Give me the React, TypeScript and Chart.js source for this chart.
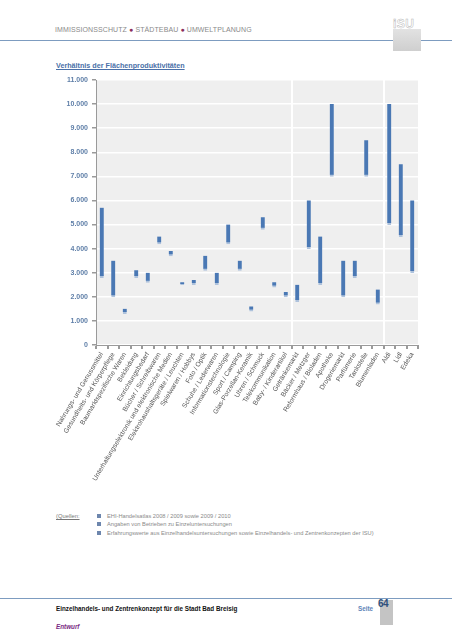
import React, { useEffect, useRef } from "react";
import { Chart, registerables } from "chart.js";

Chart.register(...registerables);

const categories: string[] = [
  "Nahrungs- und Genussmittel",
  "Gesundheits- und Körperpflege",
  "Baumarktspezifische Waren",
  "Bekleidung",
  "Einrichtungsbedarf",
  "Bücher / Schreibwaren",
  "Unterhaltungselektronik und elektronische Medien",
  "Elektrohaushaltsgeräte / Leuchten",
  "Spielwaren / Hobbys",
  "Foto / Optik",
  "Schuhe / Lederwaren",
  "Informationstechnologie",
  "Sport / Camping",
  "Glas-Porzellan-Keramik",
  "Uhren / Schmuck",
  "Telekommunikation",
  "Baby- / Kinderartikel",
  "Getränkemarkt",
  "Bäcker / Metzger",
  "Reformhaus / Bioladen",
  "Apotheke",
  "Drogeriemarkt",
  "Parfümerie",
  "Tankstelle",
  "Blumenladen",
  "Aldi",
  "Lidl",
  "Edeka",
];

const lowValues: number[] = [
  2800, 2000, 1300, 2800, 2600, 4200, 3700, 2500, 2500, 3100, 2500, 4200, 3100, 1400,
  4800, 2400, 2000, 1800, 4000, 2500, 7000, 2000, 2800, 7000, 1700, 5000, 4500, 3000,
];

const highValues: number[] = [
  5700, 3500, 1500, 3100, 3000, 4500, 3900, 2600, 2700, 3700, 3000, 5000, 3500, 1600,
  5300, 2600, 2200, 2500, 6000, 4500, 10000, 3500, 3500, 8500, 2300, 10000, 7500, 6000,
];

const groupBoundaries: number[] = [17, 25];

const sources: string[] = [
  "EHI-Handelsatlas 2008 / 2009 sowie 2009 / 2010",
  "Angaben von Betrieben zu Einzeluntersuchungen",
  "Erfahrungswerte aus Einzelhandelsuntersuchungen sowie Einzelhandels- und Zentrenkonzepten der ISU)",
];

const FONT = "'Liberation Sans', Arial, sans-serif";

function fmt(v: number): string {
  if (v === 0) return "0";
  const th = Math.floor(v / 1000);
  const rest = v % 1000;
  return th + "." + String(rest).padStart(3, "0");
}

const bgPlugin = {
  id: "plotBg",
  beforeDraw(chart: any) {
    const { ctx, chartArea } = chart;
    if (!chartArea) return;
    ctx.save();
    ctx.fillStyle = "#efefef";
    ctx.fillRect(chartArea.left, chartArea.top, chartArea.right - chartArea.left, chartArea.bottom - chartArea.top);
    ctx.restore();
  },
};

function ChartBox() {
  const ref = useRef<HTMLCanvasElement | null>(null);
  useEffect(() => {
    if (!ref.current) return;
    const data = categories.map((_, i) => [lowValues[i], highValues[i]]);
    const chart = new Chart(ref.current, {
      type: "bar",
      data: {
        labels: categories,
        datasets: [
          {
            data: data as any,
            backgroundColor: "#4a78b4",
            borderColor: "#aec2dc",
            borderWidth: { top: 0, left: 0, right: 0, bottom: 2 } as any,
            borderSkipped: false,
            barThickness: 4,
          },
        ],
      },
      options: {
        responsive: false,
        animation: false,
        layout: { padding: { top: 10, right: 12, left: 0, bottom: 0 } },
        plugins: { legend: { display: false }, tooltip: { enabled: false }, title: { display: false } },
        scales: {
          x: {
            offset: true,
            grid: {
              offset: true,
              color: (ctx: any) => (groupBoundaries.includes(ctx.index) ? "#ffffff" : "rgba(0,0,0,0)"),
              lineWidth: 2,
              tickColor: "#9a9a9a",
              tickLength: 4,
              drawOnChartArea: true,
            },
            border: { color: "#9a9a9a", width: 1 },
            ticks: {
              autoSkip: false,
              minRotation: 59,
              maxRotation: 59,
              padding: 2,
              color: "#555555",
              font: { family: FONT, size: 6.7 },
            },
            afterFit: (scale: any) => {
              scale.height = 155;
              scale.paddingLeft = 0;
              scale.paddingRight = 0;
            },
          },
          y: {
            min: 0,
            max: 11000,
            grid: {
              color: "#ffffff",
              lineWidth: 1.5,
              tickColor: "#9a9a9a",
              tickLength: 4,
            },
            border: { color: "#9a9a9a", width: 1 },
            ticks: {
              stepSize: 1000,
              padding: 4,
              color: "#5f7fa8",
              font: { family: FONT, size: 7, weight: "bold" },
              callback: (v: any) => fmt(Number(v)),
            },
            afterFit: (scale: any) => {
              scale.width = 56;
              scale.paddingTop = 0;
              scale.paddingBottom = 0;
            },
          },
        },
      },
      plugins: [bgPlugin],
    });
    return () => chart.destroy();
  }, []);
  return <canvas ref={ref} width={390} height={430} style={{ position: "absolute", left: 40, top: 70, width: 390, height: 430 }} />;
}

export default function App() {
  const abs = (s: React.CSSProperties): React.CSSProperties => ({ position: "absolute", ...s });
  return (
    <div style={{ position: "absolute", left: 0, top: 0, width: 452, height: 640, background: "#fff", overflow: "hidden", fontFamily: FONT }}>
      {/* header */}
      <div style={abs({ left: 55, top: 26, fontSize: 7, color: "#8a8a8a", letterSpacing: 0.1, whiteSpace: "nowrap" })}>
        IMMISSIONSSCHUTZ <span style={{ color: "#8c2f5c" }}>●</span> STÄDTEBAU <span style={{ color: "#8c2f5c" }}>●</span> UMWELTPLANUNG
      </div>
      <div style={abs({ left: 0, top: 40, width: 452, height: 1, background: "#7d9cc0" })} />
      <div style={abs({ left: 393, top: 29, width: 28, height: 22, background: "linear-gradient(#e2e2e2, #cfcfcf)" })} />
      <div style={abs({ left: 393, top: 17, width: 28, fontSize: 12, color: "#fff", fontWeight: "bold", WebkitTextStroke: "0.5px #b8b8b8", letterSpacing: 0.5 })}>iSU</div>

      {/* title */}
      <div style={abs({ left: 56, top: 61, fontSize: 7.2, fontWeight: "bold", color: "#4a70a8", textDecoration: "underline", whiteSpace: "nowrap" })}>
        Verhältnis der Flächenproduktivitäten
      </div>

      <ChartBox />

      {/* sources */}
      <div style={abs({ left: 56, top: 513, fontSize: 5.8, color: "#777", textDecoration: "underline", whiteSpace: "nowrap" })}>(Quellen:</div>
      {sources.map((s, i) => (
        <div key={i} style={abs({ left: 97, top: 513 + i * 8.3, fontSize: 5.7, color: "#8a8a8a", whiteSpace: "nowrap", display: "flex", alignItems: "center" })}>
          <span style={{ display: "inline-block", width: 4, height: 4, background: "#6d86ad", marginRight: 6 }} />
          <span>{s}</span>
        </div>
      ))}

      {/* footer */}
      <div style={abs({ left: 0, top: 598, width: 452, height: 1, background: "#7d9cc0" })} />
      <div style={abs({ left: 56, top: 605, fontSize: 6.3, fontWeight: "bold", color: "#111", whiteSpace: "nowrap" })}>
        Einzelhandels- und Zentrenkonzept für die Stadt Bad Breisig
      </div>
      <div style={abs({ left: 56, top: 623, fontSize: 6.3, fontWeight: "bold", fontStyle: "italic", color: "#7a2a82" })}>Entwurf</div>
      <div style={abs({ left: 358, top: 605, fontSize: 6.3, fontWeight: "bold", color: "#5f84b8" })}>Seite</div>
      <div style={abs({ left: 380, top: 600, width: 13, height: 25, background: "#c4c4c4" })} />
      <div style={abs({ left: 378, top: 598, fontSize: 10, fontWeight: "bold", color: "#2e4f7c", letterSpacing: -0.5 })}>64</div>
    </div>
  );
}
